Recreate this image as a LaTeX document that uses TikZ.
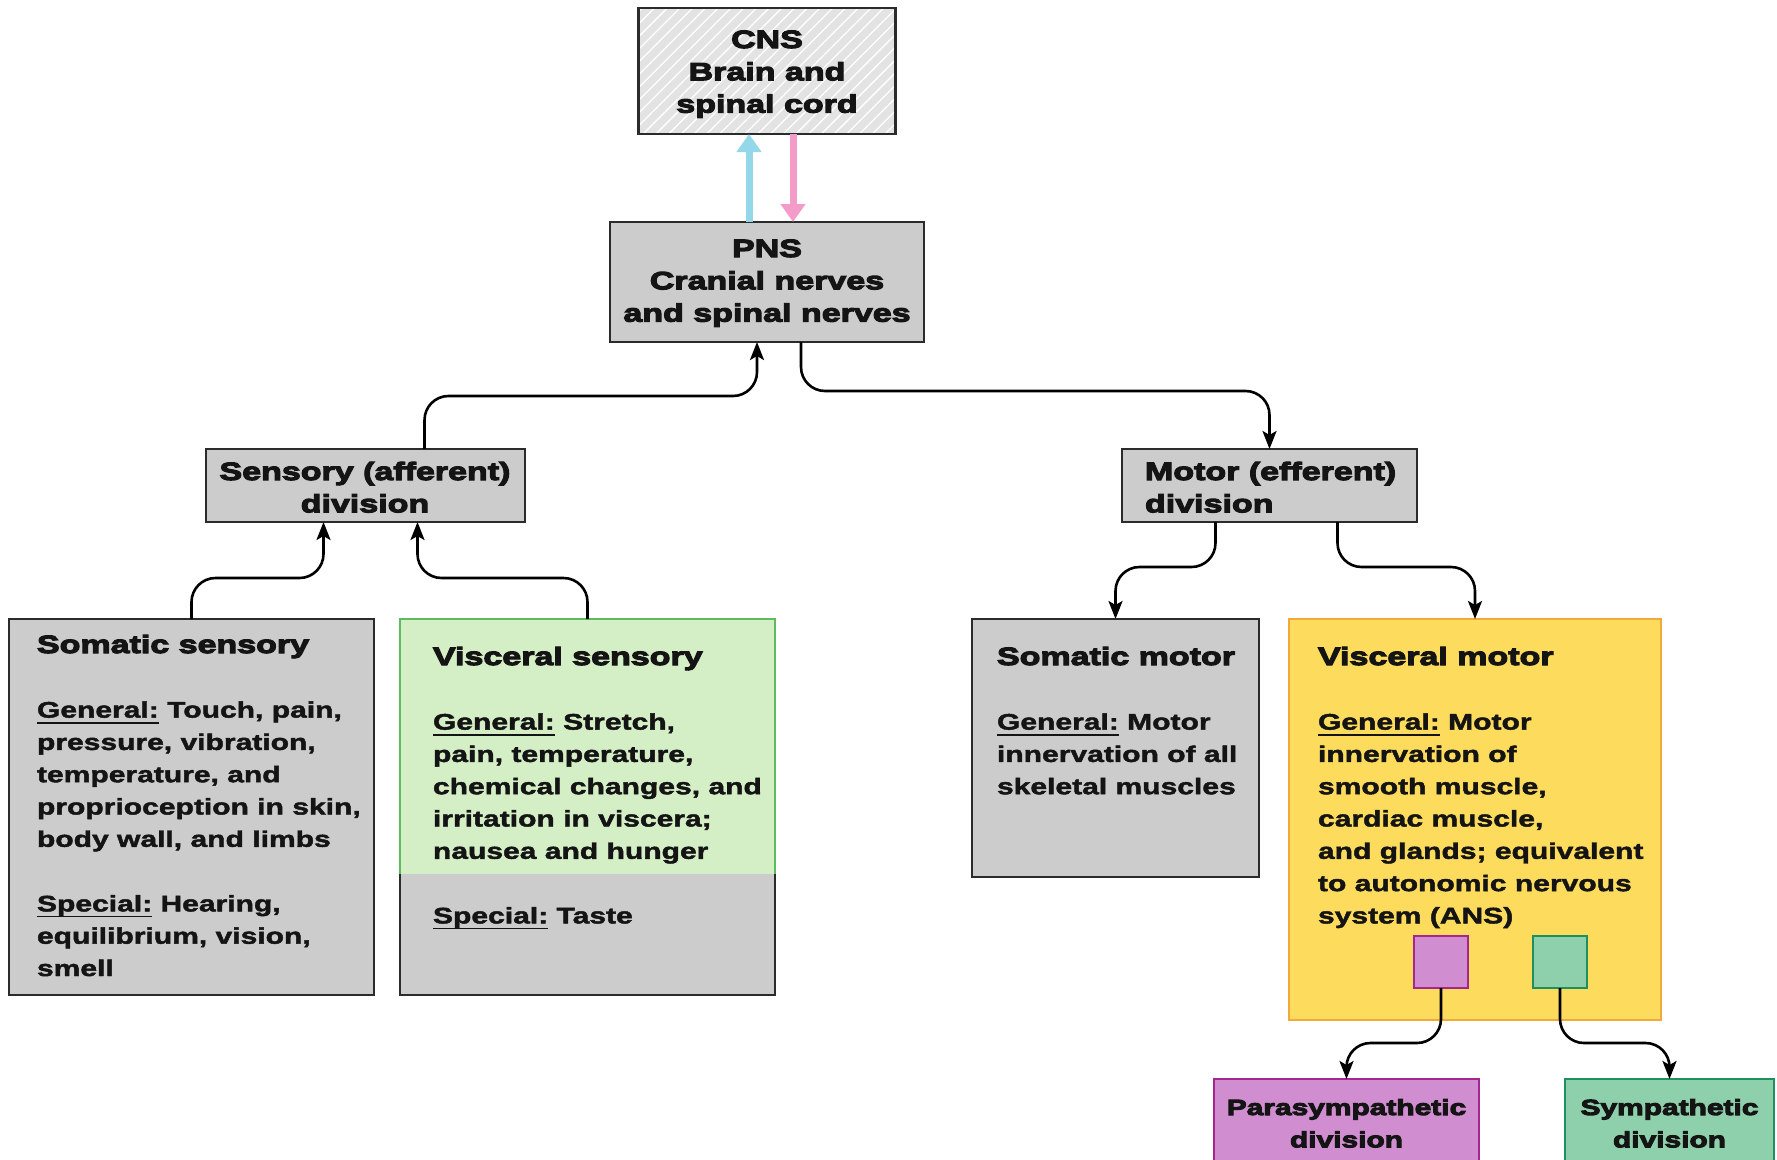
\documentclass[tikz,border=0pt]{standalone}
\usepackage{fontspec}
\setmainfont{Liberation Sans}
\newfontfamily\bodyfam[FakeStretch=1.335,FakeBold=2]{Liberation Sans Bold}
\newfontfamily\headfam[FakeStretch=1.36,FakeBold=4.5]{Liberation Sans Bold}
\usetikzlibrary{arrows.meta,patterns.meta}
\newcommand\bodyfont{\bodyfam\fontsize{22.5}{32.3}\selectfont}
\newcommand\headfont{\headfam\fontsize{25}{32.3}\selectfont}
\newcommand\headsmall{\headfam\fontsize{22}{32.3}\selectfont}
\newcommand\ulg[1]{\setbox0\hbox{#1}\rlap{\rule[-6pt]{\wd0}{1.8pt}}\box0\relax}
\newcommand\firstup{\rule{0pt}{24pt}}
\definecolor{boxgray}{HTML}{CCCCCC}
\definecolor{edge}{HTML}{2B2B2B}
\definecolor{ink}{HTML}{141414}
\definecolor{vgreen}{HTML}{D4EFC6}
\definecolor{vgreenedge}{HTML}{5DBB5D}
\definecolor{ymot}{HTML}{FDDB5C}
\definecolor{yedge}{HTML}{F2A83A}
\definecolor{magfill}{HTML}{D08DCF}
\definecolor{magedge}{HTML}{A3278F}
\definecolor{sgfill}{HTML}{8FD0AC}
\definecolor{sgedge}{HTML}{1F8F5F}
\definecolor{cnsgray}{HTML}{E3E3E3}
\definecolor{upblue}{HTML}{93D7E8}
\definecolor{downpink}{HTML}{F39BC9}
\tikzset{
  box/.style={rectangle, inner sep=0pt, outer sep=0pt, line width=2.6pt, draw=edge, anchor=north west},
  gbox/.style={box, fill=boxgray},
  conn/.style={draw=black, line width=2.6pt, rounded corners=24pt, -{Stealth[length=18pt,width=14pt,inset=4pt]}},
  txt/.style={inner sep=0pt, outer sep=0pt, text=ink},
  bigarrow/.style={line width=7pt, -{Triangle[length=18pt,width=24pt]}}
}
\begin{document}
\begin{tikzpicture}[x=1pt,y=-1pt]
\useasboundingbox (0,0) rectangle (1777,1159);
% boxes
\node[box, minimum width=257pt, minimum height=126pt, preaction={fill=cnsgray},
      pattern={Lines[angle=45,distance=9pt,line width=1.3pt]}, pattern color=white] (cns) at (638.5,8) {};
\node[gbox, minimum width=314pt, minimum height=120pt] (pns) at (610,222) {};
\node[gbox, minimum width=319pt, minimum height=73pt] (sens) at (206,449) {};
\node[gbox, minimum width=295pt, minimum height=73pt] (motor) at (1122,449) {};
\node[gbox, minimum width=365pt, minimum height=376pt] (somsens) at (9,619) {};
\node[gbox, minimum width=375pt, minimum height=376pt] (vsens) at (400,619) {};
\fill[vgreen] (vsens.north west) rectangle ([yshift=-255pt]vsens.north east);
\draw[vgreenedge, line width=2.6pt] ([yshift=-255pt]vsens.north west) -- (vsens.north west) -- (vsens.north east) -- ([yshift=-255pt]vsens.north east);
\node[gbox, minimum width=287pt, minimum height=258pt] (sommot) at (972,619) {};
\node[box, draw=yedge, line width=2pt, fill=ymot, minimum width=372pt, minimum height=401pt] (viscmot) at (1289,619) {};
\node[box, draw=magedge, fill=magfill, minimum width=54pt, minimum height=52pt] (psq) at (1414,936) {};
\node[box, draw=sgedge, fill=sgfill, minimum width=54pt, minimum height=52pt] (ssq) at (1533,936) {};
\node[box, draw=magedge, fill=magfill, minimum width=265pt, minimum height=100pt] (para) at (1214,1079) {};
\node[box, draw=sgedge, fill=sgfill, minimum width=209pt, minimum height=100pt] (symp) at (1565,1079) {};
% CNS <-> PNS
\draw[bigarrow, upblue] ([xshift=-18pt]pns.north) -- ([xshift=-18pt]cns.south);
\draw[bigarrow, downpink] ([xshift=26pt]cns.south) -- ([xshift=26pt]pns.north);
% connectors
\draw[conn] ([xshift=59pt]sens.north) -- ++(0,-53) -| ([xshift=-10pt]pns.south);
\draw[conn] ([xshift=34pt]pns.south) -- ++(0,49) -| (motor.north);
\draw[conn] (somsens.north) -- ++(0,-41) -| ([xshift=-42pt]sens.south);
\draw[conn] (vsens.north) -- ++(0,-41) -| ([xshift=52pt]sens.south);
\draw[conn] ([xshift=-54pt]motor.south) -- ++(0,45) -| (sommot.north);
\draw[conn] ([xshift=68pt]motor.south) -- ++(0,45) -| (viscmot.north);
\draw[conn] (psq.south) -- ++(0,55) -| (para.north);
\draw[conn] (ssq.south) -- ++(0,55) -| (symp.north);
% texts
\node[txt, anchor=north, align=center, font=\headfont] (cnstxt) at (767,24) {\firstup CNS\\Brain and\\spinal cord};
\node[txt, anchor=north, align=center, font=\headfont] (pnstxt) at (767,233) {\firstup PNS\\Cranial nerves\\and spinal nerves};
\node[txt, anchor=north, align=center, font=\headfont] (senstxt) at (365,456) {\firstup Sensory (afferent)\\division};
\node[txt, anchor=north west, align=left, font=\headfont] (motortxt) at (1145,456) {\firstup Motor (efferent)\\division};
\node[txt, anchor=north, align=center, font=\headsmall] (paratxt) at (1346.5,1091) {\firstup Parasympathetic\\division};
\node[txt, anchor=north, align=center, font=\headsmall] (symptxt) at (1669.5,1091) {\firstup Sympathetic\\division};
\node[txt, anchor=north west, align=left, font=\bodyfont] (somsenstxt) at (37,629)
  {{\headfont\firstup Somatic sensory}\\[32.3pt]
   \ulg{General:} Touch, pain,\\ pressure, vibration,\\ temperature, and\\ proprioception in skin,\\ body wall, and limbs\\[32.3pt]
   \ulg{Special:} Hearing,\\ equilibrium, vision,\\ smell};
\node[txt, anchor=north west, align=left, font=\bodyfont] (vsenstxt) at (433,641)
  {{\headfont\firstup Visceral sensory}\\[32.3pt]
   \ulg{General:} Stretch,\\ pain, temperature,\\ chemical changes, and\\ irritation in viscera;\\ nausea and hunger\\[32.3pt]
   \ulg{Special:} Taste};
\node[txt, anchor=north west, align=left, font=\bodyfont] (sommottxt) at (997,641)
  {{\headfont\firstup Somatic motor}\\[32.3pt]
   \ulg{General:} Motor\\ innervation of all\\ skeletal muscles};
\node[txt, anchor=north west, align=left, font=\bodyfont] (viscmottxt) at (1318,641)
  {{\headfont\firstup Visceral motor}\\[32.3pt]
   \ulg{General:} Motor\\ innervation of\\ smooth muscle,\\ cardiac muscle,\\ and glands; equivalent\\ to autonomic nervous\\ system (ANS)};
\end{tikzpicture}
\end{document}
